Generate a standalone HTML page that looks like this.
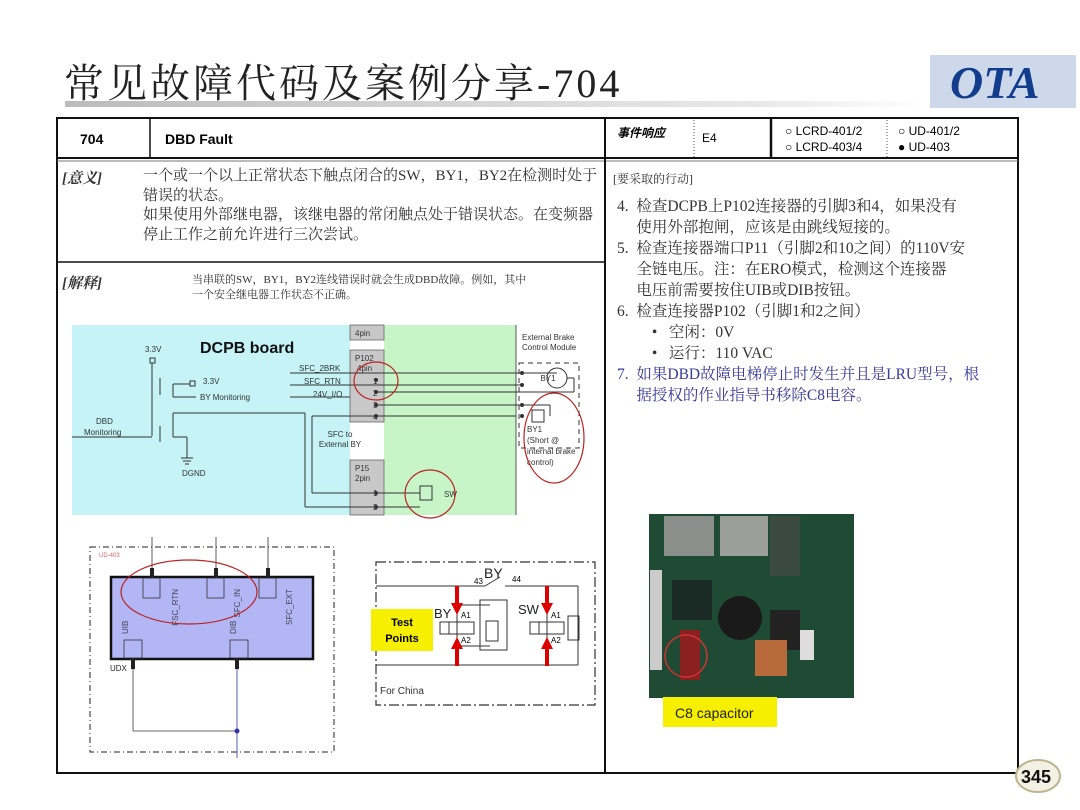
<!DOCTYPE html>
<html><head><meta charset="utf-8"><style>
body{margin:0;width:1080px;height:810px;background:#fff;position:relative;overflow:hidden;font-family:"Liberation Sans","Noto Sans CJK SC",sans-serif}
.a{position:absolute;white-space:nowrap}
.s{font-family:"Liberation Serif","Noto Serif CJK SC",serif;color:#333}
</style></head><body>
<div class="a" style="left:64px;top:52px;font-size:40px;color:#222;font-family:'Liberation Serif','Noto Serif CJK SC',serif;letter-spacing:3px">常见故障代码及案例分享-704</div>
<div class="a" style="left:65px;top:101px;width:860px;height:6px;background:linear-gradient(90deg,#bbb,#e8e8e8 80%,#fff)"></div>
<div class="a" style="left:930px;top:55px;width:146px;height:53px;background:#cdd9ea"></div>
<div class="a" style="left:950px;top:56px;font-size:46px;font-weight:bold;font-style:italic;color:#123d8c;font-family:'Liberation Serif',serif">OTA</div>

<svg class="a" style="left:0;top:0" width="1080" height="810" xmlns="http://www.w3.org/2000/svg" font-family="Liberation Sans, sans-serif">
<rect x="57" y="118" width="961" height="655" fill="none" stroke="#111" stroke-width="2"/>
<line x1="57" y1="158" x2="1018" y2="158" stroke="#111" stroke-width="2"/>
<line x1="57" y1="161" x2="1018" y2="161" stroke="#777" stroke-width="1"/>
<line x1="150" y1="118" x2="150" y2="158" stroke="#111" stroke-width="1.5"/>
<line x1="605" y1="118" x2="605" y2="773" stroke="#111" stroke-width="2"/>
<line x1="694" y1="120" x2="694" y2="158" stroke="#555" stroke-dasharray="1 2"/>
<line x1="771" y1="118" x2="771" y2="158" stroke="#111" stroke-width="2.5"/>
<line x1="887" y1="120" x2="887" y2="158" stroke="#555" stroke-dasharray="1 2"/>
<line x1="57" y1="262" x2="605" y2="262" stroke="#111" stroke-width="1.5"/>
<text x="80" y="144" font-size="14" font-weight="bold">704</text>
<text x="165" y="144" font-size="14" font-weight="bold">DBD Fault</text>
<text x="617" y="137" font-size="12" font-weight="bold" font-style="italic" font-family="Noto Sans CJK SC,sans-serif">事件响应</text>
<text x="702" y="142" font-size="12">E4</text>
<text x="785" y="135" font-size="12">○ LCRD-401/2</text>
<text x="785" y="151" font-size="12">○ LCRD-403/4</text>
<text x="898" y="135" font-size="12">○ UD-401/2</text>
<text x="898" y="151" font-size="12">● UD-403</text>

<rect x="72" y="325" width="278" height="190" fill="#c5f3f6"/>
<rect x="384" y="325" width="132" height="190" fill="#c8f5c8"/>
<rect x="350" y="325" width="34" height="190" fill="#fff"/>
<rect x="350" y="325" width="34" height="15" fill="#c8c8c8" stroke="#555" stroke-width=".7"/>
<rect x="350" y="350" width="34" height="72" fill="#c8c8c8" stroke="#555" stroke-width=".7"/>
<rect x="350" y="460" width="34" height="55" fill="#c8c8c8" stroke="#555" stroke-width=".7"/>
<line x1="516" y1="325" x2="516" y2="515" stroke="#555"/>
<g font-size="8" fill="#333">
<text x="355" y="336">4pin</text><text x="355" y="361">P102</text><text x="357" y="371">4pin</text>
<text x="373" y="384">1</text><text x="373" y="396">2</text><text x="373" y="408">3</text><text x="373" y="420">4</text>
<text x="355" y="471">P15</text><text x="355" y="481">2pin</text><text x="373" y="496">1</text><text x="373" y="510">2</text>
<text x="340" y="437" text-anchor="middle">SFC to</text><text x="340" y="447" text-anchor="middle">External BY</text>
<text x="299" y="371">SFC_2BRK</text><text x="304" y="384">SFC_RTN</text><text x="313" y="397">24V_I/O</text>
<text x="145" y="352">3.3V</text><text x="203" y="384">3.3V</text><text x="200" y="400">BY Monitoring</text>
<text x="96" y="424">DBD</text><text x="84" y="435">Monitoring</text><text x="182" y="476">DGND</text>
<text x="522" y="340">External Brake</text><text x="522" y="350">Control Module</text>
<text x="527" y="432">BY1</text><text x="527" y="443">(Short @</text><text x="527" y="454">internal brake</text><text x="527" y="465">control)</text>
</g>
<text x="200" y="353" font-size="16" font-weight="bold" fill="#111">DCPB board</text>
<g stroke="#333" fill="none" stroke-width="1">
<rect x="150" y="358" width="5" height="5"/><line x1="152" y1="363" x2="152" y2="436"/>
<line x1="72" y1="437" x2="152" y2="437"/>
<line x1="173" y1="384" x2="173" y2="397"/><line x1="173" y1="384" x2="190" y2="384"/><rect x="190" y="381" width="5" height="5"/>
<line x1="173" y1="397" x2="196" y2="397"/>
<line x1="160" y1="378" x2="160" y2="395"/><line x1="160" y1="426" x2="160" y2="442"/>
<line x1="173" y1="413" x2="305" y2="413"/><line x1="173" y1="413" x2="173" y2="437"/><line x1="173" y1="437" x2="187" y2="437"/><line x1="187" y1="437" x2="187" y2="458"/>
<line x1="181" y1="458" x2="193" y2="458"/><line x1="183" y1="461" x2="191" y2="461"/><line x1="185" y1="464" x2="189" y2="464"/>
<line x1="305" y1="413" x2="305" y2="507"/><line x1="305" y1="507" x2="420" y2="507"/>
<line x1="516" y1="416" x2="312" y2="416"/><line x1="312" y1="416" x2="312" y2="493"/><line x1="312" y1="493" x2="420" y2="493"/>
<line x1="290" y1="373" x2="557" y2="373"/><line x1="290" y1="385" x2="522" y2="385"/><line x1="290" y1="397" x2="350" y2="397"/>
<line x1="376" y1="392" x2="522" y2="392"/><line x1="376" y1="405" x2="522" y2="405"/>
<rect x="420" y="486" width="12" height="14"/>
<rect x="519" y="363" width="60" height="85" stroke-dasharray="5 4"/>
<circle cx="557" cy="378" r="10"/><line x1="567" y1="378" x2="574" y2="378"/><line x1="574" y1="378" x2="574" y2="392"/><line x1="574" y1="392" x2="522" y2="392"/>
<rect x="532" y="410" width="12" height="12"/><line x1="522" y1="405" x2="550" y2="405"/><line x1="550" y1="405" x2="550" y2="416"/>
</g>
<text x="548" y="381" font-size="8" fill="#333" text-anchor="middle">BY1</text>
<text x="444" y="497" font-size="8" fill="#333">SW</text>
<g fill="#333"><circle cx="376" cy="380" r="2"/><circle cx="376" cy="392" r="2"/><circle cx="376" cy="405" r="2"/><circle cx="376" cy="416" r="2"/><circle cx="376" cy="493" r="2"/><circle cx="376" cy="507" r="2"/>
<circle cx="522" cy="373" r="2"/><circle cx="522" cy="385" r="2"/><circle cx="522" cy="405" r="2"/><circle cx="522" cy="416" r="2"/></g>
<g stroke="#b22" fill="none" stroke-width="1.2">
<ellipse cx="376" cy="381" rx="22" ry="19"/><ellipse cx="430" cy="494" rx="25" ry="24"/><ellipse cx="554" cy="438" rx="30" ry="45"/>
</g>

<rect x="90" y="547" width="244" height="205" fill="none" stroke="#222" stroke-dasharray="6 3 1 3"/>
<text x="99" y="557" font-size="6" fill="#c66">UD-403</text>
<rect x="111" y="577" width="202" height="82" fill="#b3b6f4" stroke="#111" stroke-width="2.5"/>
<g stroke="#333" fill="none" stroke-width=".8">
<rect x="143" y="578" width="17" height="20"/><rect x="207" y="578" width="17" height="20"/><rect x="259" y="578" width="17" height="20"/>
<rect x="124" y="640" width="18" height="18"/><rect x="230" y="640" width="18" height="18"/>
<line x1="152" y1="537" x2="152" y2="578"/><line x1="216" y1="537" x2="216" y2="578"/><line x1="268" y1="537" x2="268" y2="578"/>
<line x1="133" y1="659" x2="133" y2="731"/><line x1="133" y1="731" x2="237" y2="731"/><line x1="237" y1="659" x2="237" y2="758" stroke="#33a"/>
</g>
<g fill="#222"><rect x="150" y="568" width="4" height="10"/><rect x="214" y="568" width="4" height="10"/><rect x="266" y="568" width="4" height="10"/><rect x="131" y="659" width="4" height="10"/><rect x="235" y="659" width="4" height="10"/></g>
<circle cx="237" cy="731" r="2.5" fill="#33a"/>
<g font-size="8" fill="#445"><text transform="translate(178,589) rotate(-90)" text-anchor="end">FSC_RTN</text><text transform="translate(240,589) rotate(-90)" text-anchor="end">SFC_IN</text><text transform="translate(292,589) rotate(-90)" text-anchor="end">SFC_EXT</text>
<text transform="translate(128,634) rotate(-90)">UIB</text><text transform="translate(236,634) rotate(-90)">DIB</text></g>
<text x="110" y="671" font-size="8" fill="#222">UDX</text>
<ellipse cx="189" cy="592" rx="68" ry="32" fill="none" stroke="#b22" stroke-width="1.2"/>

<rect x="376" y="562" width="219" height="143" fill="none" stroke="#333" stroke-dasharray="10 3 2 3" stroke-width="1.2"/>
<g stroke="#333" fill="none">
<line x1="376" y1="586" x2="485" y2="586"/><line x1="485" y1="586" x2="500" y2="577"/><line x1="505" y1="586" x2="578" y2="586"/><line x1="578" y1="586" x2="578" y2="665"/>
<line x1="376" y1="665" x2="578" y2="665"/>
<line x1="457" y1="586" x2="457" y2="665"/><line x1="547" y1="586" x2="547" y2="665"/>
<line x1="457" y1="605" x2="490" y2="605"/><line x1="457" y1="646" x2="490" y2="646"/>
<rect x="440" y="622" width="34" height="12"/><rect x="440" y="622" width="9" height="12"/>
<rect x="480" y="600" width="27" height="50"/><rect x="486" y="621" width="12" height="20"/>
<rect x="530" y="622" width="34" height="12"/><rect x="530" y="622" width="9" height="12"/>
<rect x="568" y="616" width="11" height="24"/>
</g>
<g fill="#d00"><rect x="455" y="586" width="4" height="20"/><polygon points="451,603 463,603 457,615"/><rect x="455" y="646" width="4" height="20"/><polygon points="451,649 463,649 457,637"/>
<rect x="545" y="586" width="4" height="20"/><polygon points="541,603 553,603 547,615"/><rect x="545" y="646" width="4" height="20"/><polygon points="541,649 553,649 547,637"/></g>
<text x="484" y="578" font-size="14" fill="#222">BY</text><text x="474" y="584" font-size="8">43</text><text x="512" y="582" font-size="8">44</text>
<text x="434" y="618" font-size="13" fill="#222">BY</text><text x="461" y="618" font-size="8">A1</text><text x="461" y="643" font-size="8">A2</text>
<text x="518" y="614" font-size="13" fill="#222">SW</text><text x="551" y="618" font-size="8">A1</text><text x="551" y="643" font-size="8">A2</text>
<text x="380" y="694" font-size="10" fill="#333">For China</text>
<rect x="371" y="609" width="62" height="42" fill="#f6f000"/>
<text x="402" y="626" font-size="11" font-weight="bold" text-anchor="middle">Test</text><text x="402" y="642" font-size="11" font-weight="bold" text-anchor="middle">Points</text>

<rect x="649" y="514" width="205" height="184" fill="#1f4a33"/>
<rect x="664" y="516" width="50" height="40" fill="#8a8f8c"/><rect x="720" y="516" width="48" height="40" fill="#9a9f9a"/><rect x="770" y="516" width="30" height="60" fill="#3a4a40"/>
<rect x="672" y="580" width="40" height="40" fill="#1a2a24"/><circle cx="740" cy="618" r="22" fill="#1a1a1a"/><rect x="770" y="610" width="30" height="40" fill="#222"/>
<rect x="755" y="640" width="32" height="36" fill="#b86a3a"/><rect x="800" y="630" width="14" height="30" fill="#ddd"/>
<rect x="680" y="630" width="20" height="50" fill="#8a2020"/><rect x="650" y="570" width="12" height="100" fill="#ccc"/>
<circle cx="686" cy="656" r="21" fill="none" stroke="#c33" stroke-width="1.5"/>
<rect x="663" y="697" width="114" height="30" fill="#f6f000"/>
<text x="675" y="718" font-size="14" fill="#222">C8 capacitor</text>
<ellipse cx="1038" cy="776" rx="22" ry="16" fill="#f3f1e4" stroke="#bdb590" stroke-width="2"/>
<text x="1036" y="783" font-size="18" font-weight="bold" text-anchor="middle" fill="#111">345</text>
</svg>

<div class="a s" style="left:62px;top:167px;font-size:15px"><b><i>[意义]</i></b></div>
<div class="a s" style="left:143px;top:167px;font-size:15px;line-height:19.5px;white-space:normal;width:460px">一个或一个以上正常状态下触点闭合的SW，BY1，BY2在检测时处于错误的状态。<br>如果使用外部继电器，该继电器的常闭触点处于错误状态。在变频器停止工作之前允许进行三次尝试。</div>
<div class="a s" style="left:62px;top:272px;font-size:15px"><b><i>[解释]</i></b></div>
<div class="a s" style="left:192px;top:273px;font-size:11px;line-height:15px">当串联的SW，BY1，BY2连线错误时就会生成DBD故障。例如，其中<br>一个安全继电器工作状态不正确。</div>
<div class="a s" style="left:613px;top:170px;font-size:12px">[要采取的行动]</div>
<div class="a s" style="left:617px;top:196px;font-size:15.5px;line-height:21px">4.&nbsp; 检查DCPB上P102连接器的引脚3和4，如果没有<br>&nbsp;&nbsp;&nbsp;&nbsp; 使用外部抱闸，应该是由跳线短接的。<br>5.&nbsp; 检查连接器端口P11（引脚2和10之间）的110V安<br>&nbsp;&nbsp;&nbsp;&nbsp; 全链电压。注：在ERO模式，检测这个连接器<br>&nbsp;&nbsp;&nbsp;&nbsp; 电压前需要按住UIB或DIB按钮。<br>6.&nbsp; 检查连接器P102（引脚1和2之间）<br>&nbsp;&nbsp;&nbsp;&nbsp;&nbsp;&nbsp;&nbsp;&nbsp; •&nbsp;&nbsp; 空闲：0V<br>&nbsp;&nbsp;&nbsp;&nbsp;&nbsp;&nbsp;&nbsp;&nbsp; •&nbsp;&nbsp; 运行：110 VAC<br><span style="color:#3a3a9a">7.&nbsp; 如果DBD故障电梯停止时发生并且是LRU型号，根<br>&nbsp;&nbsp;&nbsp;&nbsp; 据授权的作业指导书移除C8电容。</span></div>
</body></html>
